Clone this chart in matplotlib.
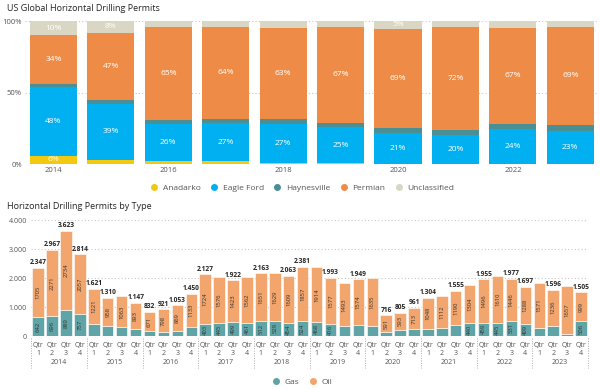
import numpy as np
import matplotlib.pyplot as plt
from matplotlib.lines import Line2D
from matplotlib.transforms import blended_transform_factory

plt.rcParams['font.family'] = ['Open Sans', 'DejaVu Sans']

# --- top chart: share of permits by basin (percent) ---
years = ['2014', '2015', '2016', '2017', '2018', '2019', '2020', '2021', '2022', '2023']
anadarko = [6, 3, 2, 2, 1, 0.5, 0.3, 0.3, 0.3, 0.3]
eagle_ford = [48, 39, 26, 27, 27, 25, 21, 20, 24, 23]
haynesville = [2.5, 2.6, 2.5, 3, 3.5, 3, 3.7, 3.3, 4, 4]
permian = [34, 47, 65, 64, 63, 67, 69, 72, 67, 69]
unclassified = [10, 8, 4, 4.5, 4.8, 4, 5.4, 4, 4.8, 4]

# --- bottom chart: permits by type per quarter ---
quarters = ['1', '2', '3', '4'] * 10
gas = [642, 696, 889, 757, 400, 352, 300, 254, 161, 123, 184, 317,
       403, 445, 499, 461, 512, 529, 454, 524, 468, 416, 330, 375,
       360, 125, 212, 248, 256, 280, 365, 440, 459, 445, 531, 409,
       270, 360, 70, 506]
oil = [1705, 2271, 2734, 2057, 1221, 958, 1063, 893, 671, 798, 869, 1133,
       1724, 1576, 1423, 1562, 1651, 1629, 1609, 1857, 1914, 1577, 1493, 1574,
       1635, 591, 593, 713, 1048, 1112, 1190, 1304, 1496, 1610, 1446, 1288,
       1571, 1236, 1657, 999]
total_shown = [0, 1, 2, 3, 4, 5, 7, 8, 9, 10, 11, 12, 14, 16, 18, 19, 21, 23,
               25, 26, 27, 28, 30, 32, 34, 35, 37, 39]
gas_shown = [0, 1, 2, 3, 12, 13, 14, 15, 16, 17, 18, 19, 20, 21, 31, 32, 33,
             34, 35, 39]

basin_colors = ['#F2C811', '#00B0F0', '#4A8F93', '#EE8C47', '#D9D7C3']
gas_color = '#5FA4A6'
oil_color = '#F2A56C'
grid_color = '#C8C8C8'
text_gray = '#555555'

fig = plt.figure(figsize=(6, 3.89), dpi=100)

# ---------- top ----------
ax1 = fig.add_axes([0.0413, 0.578, 0.957, 0.368])
series = [anadarko, eagle_ford, haynesville, permian, unclassified]
names = ['Anadarko', 'Eagle Ford', 'Haynesville', 'Permian', 'Unclassified']
data = np.array(series, dtype=float)
shares = data / data.sum(axis=0) * 100
x = np.arange(len(years))
bottom = np.zeros(len(years))
for s, c in zip(shares, basin_colors):
    ax1.bar(x, s, bottom=bottom, width=0.82, color=c, zorder=2)
    for i, v in enumerate(s):
        if v >= 5:
            ax1.text(i, bottom[i] + v / 2, f'{round(v)}%', ha='center',
                     va='center', color='white', fontsize=6)
    bottom += s
ax1.set_xlim(-0.5, len(years) - 0.5)
ax1.set_ylim(0, 100)
ax1.set_yticks([0, 50, 100])
ax1.set_yticklabels(['0%', '50%', '100%'])
ax1.set_xticks(x[::2])
ax1.set_xticklabels(years[::2])
ax1.grid(axis='y', linestyle=(0, (1, 2)), color=grid_color, linewidth=0.8, zorder=0)
for sp in ax1.spines.values():
    sp.set_visible(False)
ax1.tick_params(length=0, labelsize=5.5, colors=text_gray, pad=2)
fig.text(0.012, 0.978, 'US Global Horizontal Drilling Permits', fontsize=6.5,
         color='#252423', va='center')
handles = [Line2D([], [], marker='o', linestyle='', color=c, markersize=4)
           for c in basin_colors]
fig.legend(handles, names, loc='center', bbox_to_anchor=(0.5, 0.517), ncol=5,
           frameon=False, fontsize=6, handletextpad=0.05, columnspacing=0.6,
           labelcolor=text_gray)

# ---------- bottom ----------
ax2 = fig.add_axes([0.052, 0.1362, 0.928, 0.2982])
xq = np.arange(len(gas))
ax2.bar(xq, gas, width=0.82, color=gas_color, edgecolor='white', linewidth=0.4, zorder=2)
ax2.bar(xq, oil, bottom=gas, width=0.82, color=oil_color, edgecolor='white',
        linewidth=0.4, zorder=2)
totals = [g + o for g, o in zip(gas, oil)]
for i in range(len(gas)):
    ax2.text(i, gas[i] + oil[i] / 2, str(oil[i]), rotation=90, ha='center',
             va='center', fontsize=4.2, color='#333333')
    if i in gas_shown:
        ax2.text(i, gas[i] / 2, str(gas[i]), rotation=90, ha='center',
                 va='center', fontsize=4.2, color='#333333')
    if i in total_shown:
        ax2.text(i, totals[i] + 60, f'{totals[i]:,}'.replace(',', '.'),
                 ha='center', va='bottom', fontsize=4.8, fontweight='bold',
                 color='#252423', clip_on=False)
ax2.set_xlim(-0.5, len(gas) - 0.5)
ax2.set_ylim(0, 4000)
ax2.set_yticks([0, 1000, 2000, 3000, 4000])
ax2.set_yticklabels(['0', '1.000', '2.000', '3.000', '4.000'])
ax2.grid(axis='y', linestyle=(0, (1, 2)), color=grid_color, linewidth=0.8, zorder=0)
for sp in ax2.spines.values():
    sp.set_visible(False)
ax2.tick_params(length=0, labelsize=5, colors=text_gray, pad=3)
ax2.set_xticks([])
tr = blended_transform_factory(ax2.transData, ax2.transAxes)
for i, q in enumerate(quarters):
    ax2.text(i, -0.08, 'Qtr', transform=tr, ha='center', va='center',
             fontsize=5, color=text_gray)
    ax2.text(i, -0.155, q, transform=tr, ha='center', va='center',
             fontsize=5, color=text_gray)
for k, yr in enumerate(years):
    ax2.text(4 * k + 1.5, -0.23, yr, transform=tr, ha='center', va='center',
             fontsize=5, color=text_gray)
for k in range(len(years) + 1):
    ax2.plot([4 * k - 0.5] * 2, [-0.02, -0.28], transform=tr, clip_on=False,
             color='#AAAAAA', linestyle=(0, (1, 1.5)), linewidth=0.7)
fig.text(0.012, 0.468, 'Horizontal Drilling Permits by Type', fontsize=6.5,
         color='#252423', va='center')
handles2 = [Line2D([], [], marker='o', linestyle='', color=c, markersize=4)
            for c in [gas_color, oil_color]]
fig.legend(handles2, ['Gas', 'Oil'], loc='center', bbox_to_anchor=(0.5, 0.018),
           ncol=2, frameon=False, fontsize=6, handletextpad=0.05,
           columnspacing=0.6, labelcolor=text_gray)

fig.savefig('out.png', dpi=100)
